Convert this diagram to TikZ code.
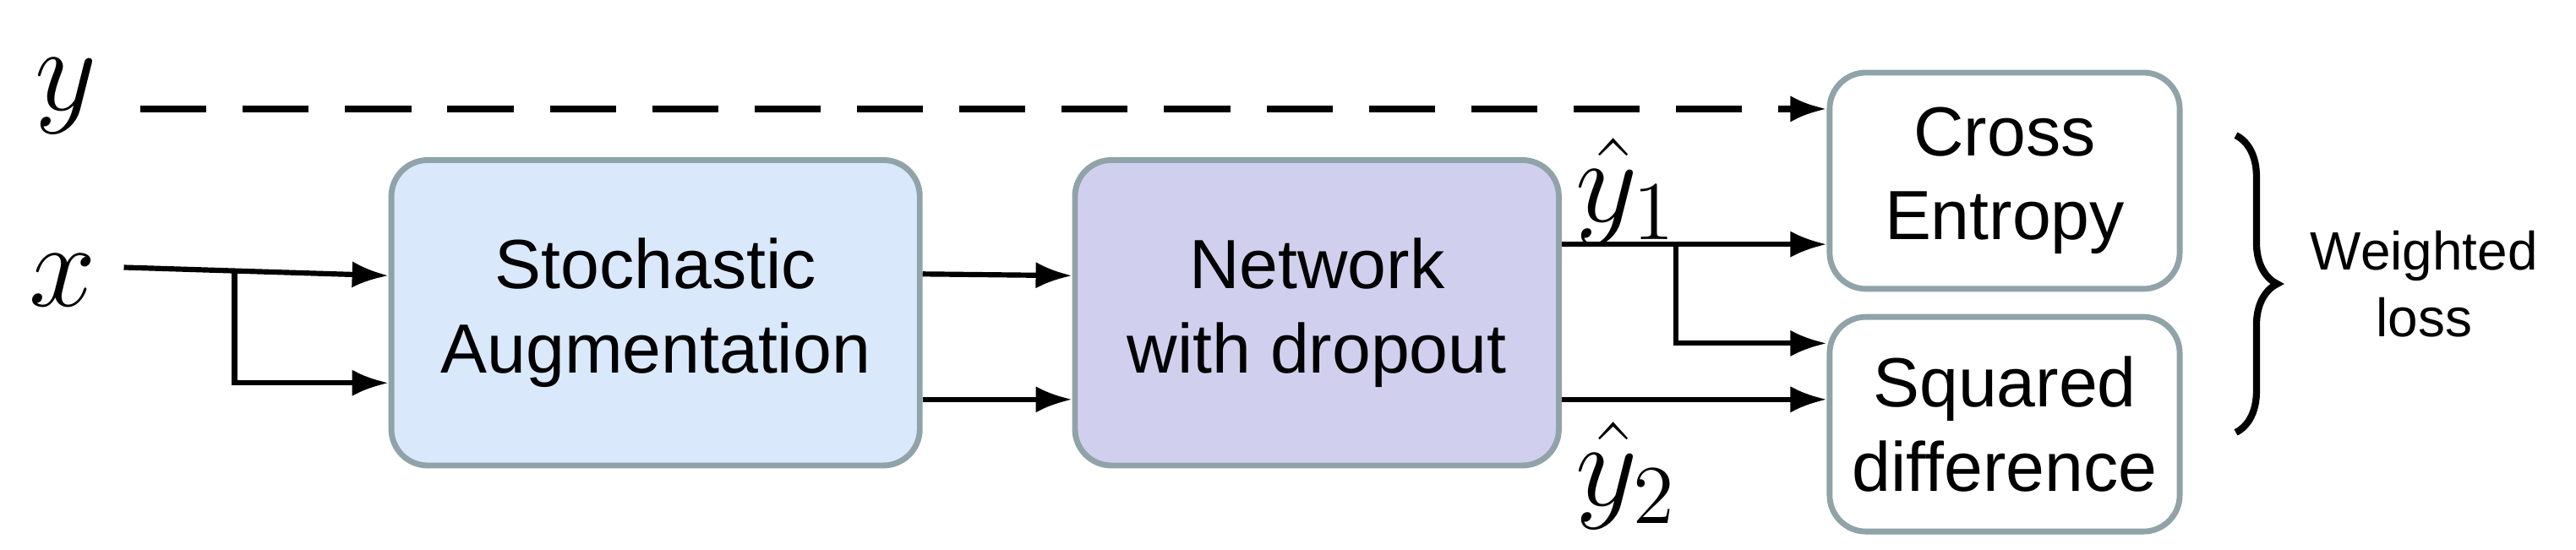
\documentclass[tikz,border=0pt]{standalone}
\usepackage{fontspec}
\setmainfont{Liberation Sans}
\usetikzlibrary{arrows.meta,decorations.pathreplacing}
\definecolor{bA}{HTML}{DAE8FC}
\definecolor{bB}{HTML}{D0D0EE}
\definecolor{bord}{HTML}{8FA3A8}
\begin{document}
\begin{tikzpicture}[x=0.1mm,y=-0.1mm,
  blk/.style={draw=bord,line width=1pt,rounded corners=2.2mm,align=center,font=\fontsize{12}{14.5}\selectfont,inner sep=0pt},
  arr/.style={-{Latex[length=2.2mm,width=1.6mm]},line width=0.9pt},
  ln/.style={line width=0.9pt},
  lab/.style={font=\fontsize{20}{22}\selectfont,inner sep=0pt}]
\useasboundingbox (0,0) rectangle (1560,333);
\node[blk,fill=bA,minimum width=32mm,minimum height=18.5mm] (aug) at (397,189.5) {Stochastic\\Augmentation};
\node[blk,fill=bB,minimum width=29.3mm,minimum height=18.5mm] (net) at (797.5,189.5) {Network\\with dropout};
\node[blk,fill=white,minimum width=21.2mm,minimum height=13.1mm] (ce) at (1214,109.5) {Cross\\Entropy};
\node[blk,fill=white,minimum width=21.2mm,minimum height=13mm] (sq) at (1214,257) {Squared\\difference};
\node[lab] (y) at (40,58) {$y$};
\node[lab] (x) at (38,170) {$x$};
\node[lab] (y1) at (985,116) {$\hat{y}_1$};
\node[lab] (y2) at (985,288) {$\hat{y}_2$};
\node[font=\fontsize{9.3}{11.5}\selectfont,align=center] (wl) at (1468,172) {Weighted\\loss};
\coordinate (xs) at (75,162);
\coordinate (xb) at (142,164);
\draw[arr,dashed,dash pattern=on 4mm off 2.2mm,line width=1.1pt] (85,66) -- (ce.north west |- 0,66);
\draw[arr] (xs) -- (aug.west |- 0,167);
\draw[arr] (xb) |- (aug.west |- 0,232);
\draw[arr] (aug.east |- 0,166) -- (net.west |- 0,167);
\draw[arr] (aug.east |- 0,242) -- (net.west |- 0,242);
\draw[arr] (net.east |- 0,148) -- (ce.west |- 0,148);
\coordinate (br) at (1015,148);
\draw[arr] (br) |- (sq.west |- 0,208);
\draw[arr] (net.east |- 0,242) -- (sq.west |- 0,242);
\draw[line width=1.2pt,decorate,decoration={brace,amplitude=2.5mm}] (1354,82) -- (1354,262);
\end{tikzpicture}
\end{document}
